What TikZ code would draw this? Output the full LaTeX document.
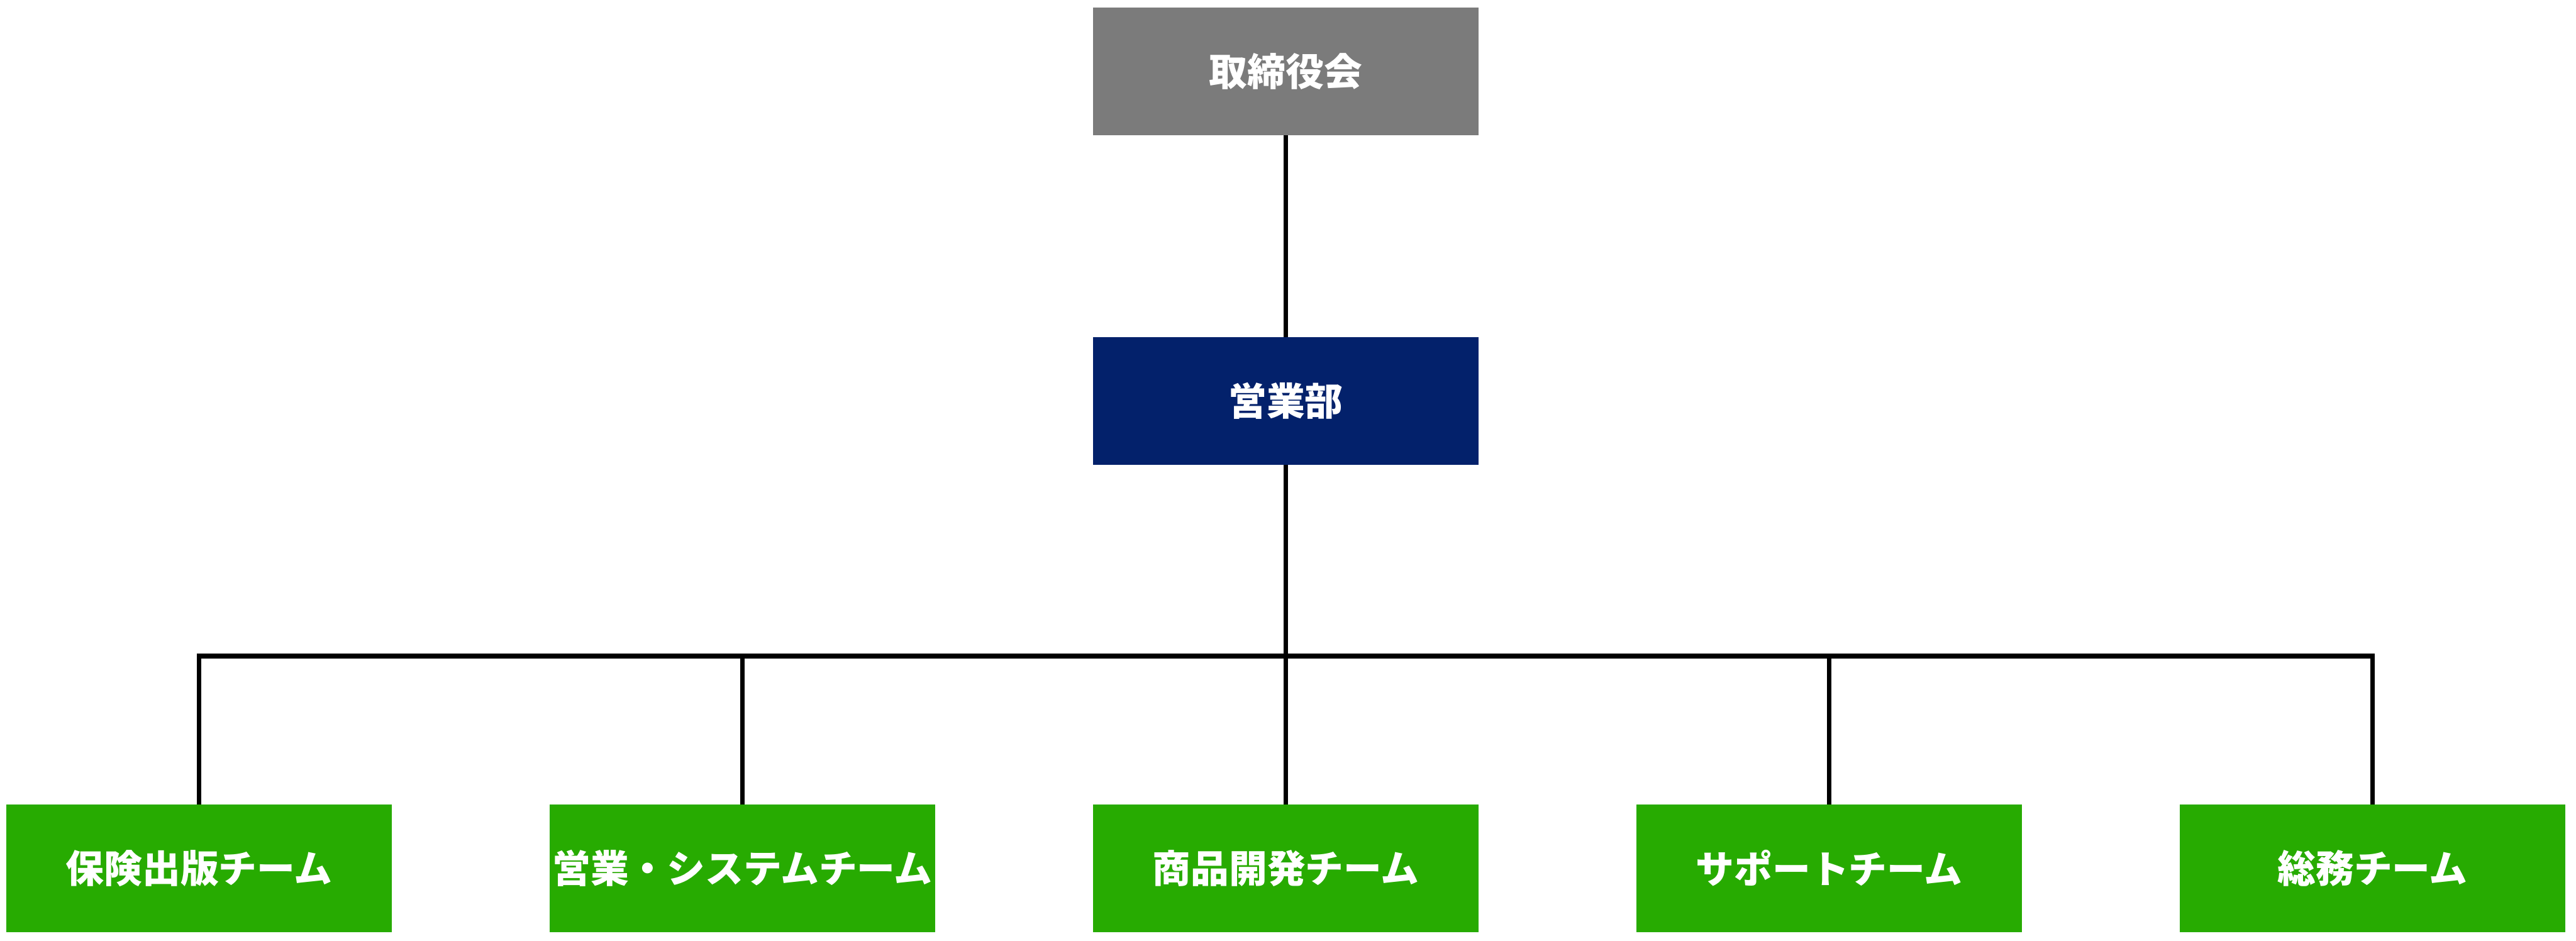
\documentclass[tikz,border=0pt]{standalone}
\usepackage{fontspec}
\setmainfont{Noto Sans CJK JP}
\usepackage{tikz}
\usetikzlibrary{positioning}
\definecolor{Board}{HTML}{7B7B7B}
\definecolor{Navy}{HTML}{03216B}
\definecolor{Leaf}{HTML}{27AB01}
\tikzset{
  orgbox/.style={
    rectangle,inner sep=0pt,outer sep=0pt,
    minimum width=6.24cm,minimum height=2.06cm,
    font=\fontsize{17.6}{20}\selectfont\bfseries,text=white
  },
  board/.style={orgbox,fill=Board},
  dept/.style={orgbox,fill=Navy},
  team/.style={orgbox,fill=Leaf},
  link/.style={line width=2.1pt,draw=black}
}
\begin{document}
\begin{tikzpicture}[node distance=2.55cm]
  \useasboundingbox (0,0) rectangle (41.67,-15.21);
  \node[board] (board) at (20.8,-1.155) {取締役会};
  \node[dept,below=3.27cm of board] (sales) {営業部};

  \node[team,below=5.5cm of sales] (dev) {商品開発チーム};
  \node[team,left=of dev] (sys) {営業・システムチーム};
  \node[team,left=of sys] (ins) {保険出版チーム};
  \node[team,right=of dev] (sup) {サポートチーム};
  \node[team,right=of sup] (gen) {総務チーム};

  \coordinate (bus) at (20.8,-10.61);
  \draw[link] (board) -- (sales);
  \draw[link] (sales) -- (bus);
  \foreach \t in {ins,sys,dev,sup,gen}
    \draw[link] (bus) -| (\t);
\end{tikzpicture}
\end{document}
